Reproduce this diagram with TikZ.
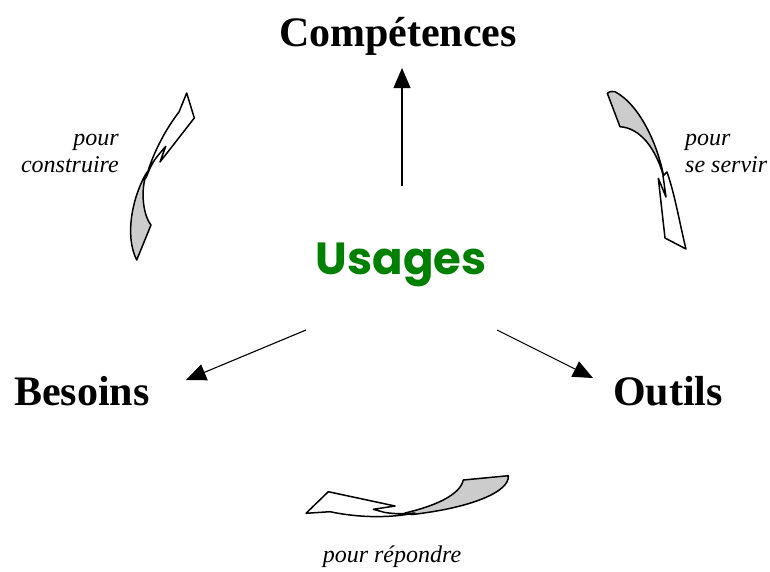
\documentclass[tikz,border=0pt]{standalone}
\usepackage{fontspec}
\setmainfont{Liberation Serif}
\newfontfamily\usagesfont{Poppins}
\usetikzlibrary{arrows.meta}
\definecolor{usagegreen}{RGB}{0,128,0}
\tikzset{
  big/.style={font=\bfseries\fontsize{42}{50}\selectfont, anchor=base, inner sep=0pt},
  lbl/.style={font=\itshape\fontsize{24}{28}\selectfont, inner sep=0pt, anchor=base},
  arr/.style={line width=1.1pt, -{Triangle[length=20pt,width=17pt]}},
  ribw/.style={draw=black, line width=1.5pt, fill=white, line join=round},
  ribg/.style={draw=black, line width=1.5pt, fill=black!20, line join=round}
}
\begin{document}
\begin{tikzpicture}[x=1pt,y=-1pt]
\useasboundingbox (0,0) rectangle (770,571);
% titles
\node[big] (comp) at (398,46) {Compétences};
\node[big] (bes) at (82,405) {Besoins};
\node[big] (out) at (668,405) {Outils};
\node[font=\usagesfont\bfseries\fontsize{45}{50}\selectfont, text=usagegreen, anchor=base, inner sep=0pt] (usa) at (401,274) {Usages};
% straight arrows
\coordinate (upS) at (402,186);
\coordinate (upE) at (402,68);
\coordinate (lS) at (306,330);
\coordinate (lE) at (186,380);
\coordinate (rS) at (497,330);
\coordinate (rE) at (593,378);
\draw[arr] (upS) -- (upE);
\draw[arr] (lS) -- (lE);
\draw[arr] (rS) -- (rE);
% labels
\node[lbl, anchor=base east] (l1a) at (119,145) {pour};
\node[lbl, anchor=base east] (l1b) at (119,172) {construire};
\node[lbl, anchor=base west] (l2a) at (685,145) {pour};
\node[lbl, anchor=base west] (l2b) at (685,172) {se servir};
\node[lbl] (l3) at (392,562) {pour répondre};
% left ribbon (pour construire)
\draw[ribg] (147,172) .. controls (133,195) and (124,235) .. (136.7,260)
  -- (151,225) .. controls (143,215) and (140,190) .. cycle;
\draw[ribw] (146,178) .. controls (152,155) and (165,130) .. (179,112)
  -- (186.7,93) -- (194.3,118) -- (160,162) -- (165.7,146.3) -- (156.7,157)
  .. controls (152,163) and (149,170) .. cycle;
% right ribbon (pour se servir)
\draw[ribg] (664,178) .. controls (658,145) and (640,105) .. (615,91.7)
  .. controls (611,91) and (608,92) .. (607.3,93.3)
  -- (620,126.7) .. controls (640,128) and (656,148) .. cycle;
\draw[ribw] (663,176) -- (666,197) -- (658.3,178.3) -- (665,238) -- (686,249)
  .. controls (680,225) and (675,195) .. (667,172) -- cycle;
% bottom ribbon (pour répondre)
\draw[ribg] (405,513) .. controls (435,506) and (460,495) .. (463.3,480)
  -- (508.3,475.7) .. controls (510,492) and (470,508) .. (412,514.5) -- cycle;
\draw[ribw] (306,513.3) -- (328.3,491.7) -- (395,506) -- (373.3,509.3)
  -- (385,512.5) .. controls (395,514) and (405,514) .. (415,513)
  .. controls (390,518) and (360,518) .. (330,511.7) -- cycle;
\end{tikzpicture}
\end{document}
